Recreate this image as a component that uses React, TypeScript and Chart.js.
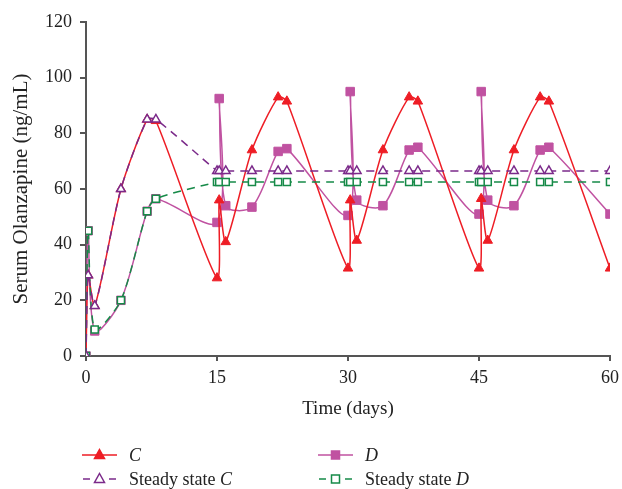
import React, { useEffect, useRef } from 'react';
import { Chart, registerables } from 'chart.js';
Chart.register(...registerables);

// ---- data ----
const days = [0, 0.25, 1, 4, 7, 8, 15, 15.25, 16, 19, 22, 23, 30, 30.25, 31, 34, 37, 38, 45, 45.25, 46, 49, 52, 53, 60];
const seriesC = [0, 29, 18, 60, 85, 84.5, 28, 56, 41, 74, 93, 91.5, 31.5, 56, 41.5, 74, 93, 91.5, 31.5, 56.5, 41.5, 74, 93, 91.5, 31.5];
const seriesD = [0, 45, 9, 20, 52, 56.5, 48, 92.5, 54, 53.5, 73.5, 74.5, 50.5, 95, 56, 54, 74, 75, 51, 95, 56, 54, 74, 75, 51];
const steadyC = [0, 29, 18, 60, 85, 85, 66.5, 66.5, 66.5, 66.5, 66.5, 66.5, 66.5, 66.5, 66.5, 66.5, 66.5, 66.5, 66.5, 66.5, 66.5, 66.5, 66.5, 66.5, 66.5];
const steadyD = [0, 45, 9.5, 20, 52, 56.5, 62.5, 62.5, 62.5, 62.5, 62.5, 62.5, 62.5, 62.5, 62.5, 62.5, 62.5, 62.5, 62.5, 62.5, 62.5, 62.5, 62.5, 62.5, 62.5];
const xTicks = [0, 15, 30, 45, 60];
const yTicks = [0, 20, 40, 60, 80, 100, 120];
const xTitle = 'Time (days)';
const yTitle = 'Serum Olanzapine (ng/mL)';

const RED = '#ee1d25';
const MAGENTA = '#c052a1';
const PURPLE = '#7b2a8a';
const GREEN = '#168a48';
const AXIS = '#555555';
const FONT = "'Liberation Serif', 'Times New Roman', serif";

const toPoints = (ys: number[]) => days.map((d, i) => ({ x: d, y: ys[i] }));

type LegendEntry = { prefix: string; italic: string; color: string; dashed: boolean; shape: 'triangle' | 'rect'; filled: boolean; col: number; row: number };
const legendEntries: LegendEntry[] = [
  { prefix: '', italic: 'C', color: RED, dashed: false, shape: 'triangle', filled: true, col: 0, row: 0 },
  { prefix: '', italic: 'D', color: MAGENTA, dashed: false, shape: 'rect', filled: true, col: 1, row: 0 },
  { prefix: 'Steady state ', italic: 'C', color: PURPLE, dashed: true, shape: 'triangle', filled: false, col: 0, row: 1 },
  { prefix: 'Steady state ', italic: 'D', color: GREEN, dashed: true, shape: 'rect', filled: false, col: 1, row: 1 },
];

function drawMarker(ctx: CanvasRenderingContext2D, shape: string, x: number, y: number, color: string, filled: boolean) {
  ctx.save();
  ctx.beginPath();
  if (shape === 'triangle') {
    ctx.moveTo(x, y - 5.5);
    ctx.lineTo(x + 5, y + 3.5);
    ctx.lineTo(x - 5, y + 3.5);
    ctx.closePath();
  } else {
    ctx.rect(x - 4, y - 4, 8, 8);
  }
  ctx.lineWidth = 1.5;
  ctx.strokeStyle = color;
  ctx.fillStyle = filled ? color : '#fff';
  ctx.fill();
  ctx.stroke();
  ctx.restore();
}

const legendPlugin = {
  id: 'customLegend',
  afterDraw(chart: any) {
    const ctx: CanvasRenderingContext2D = chart.ctx;
    const colX = [82, 318];
    const rowY = [455, 479];
    ctx.save();
    legendEntries.forEach((e) => {
      const x0 = colX[e.col];
      const y = rowY[e.row];
      ctx.strokeStyle = e.color;
      ctx.lineWidth = 1.5;
      ctx.beginPath();
      if (e.dashed) {
        ctx.moveTo(x0 + 1, y); ctx.lineTo(x0 + 8, y);
        ctx.moveTo(x0 + 27, y); ctx.lineTo(x0 + 34, y);
      } else {
        ctx.moveTo(x0, y); ctx.lineTo(x0 + 35, y);
      }
      ctx.stroke();
      drawMarker(ctx, e.shape, x0 + 17.5, y, e.color, e.filled);
      ctx.fillStyle = '#222';
      ctx.textBaseline = 'alphabetic';
      ctx.textAlign = 'left';
      let tx = x0 + 47;
      if (e.prefix) {
        ctx.font = `18px ${FONT}`;
        ctx.fillText(e.prefix, tx, y + 6);
        tx += ctx.measureText(e.prefix).width;
      }
      ctx.font = `italic 18px ${FONT}`;
      ctx.fillText(e.italic, tx, y + 6);
    });
    ctx.restore();
  },
};

export default function App() {
  const ref = useRef<HTMLCanvasElement | null>(null);
  useEffect(() => {
    if (!ref.current) return;
    const chart = new Chart(ref.current, {
      type: 'line',
      data: {
        datasets: [
          {
            label: 'Steady state C', data: toPoints(steadyC), borderColor: PURPLE, backgroundColor: '#fff',
            borderWidth: 1.5, borderDash: [8, 6], pointStyle: 'triangle', pointRadius: 5, pointBorderWidth: 1.5,
            pointBorderColor: PURPLE, pointBackgroundColor: '#fff', tension: 0.25, order: 1,
          },
          {
            label: 'Steady state D', data: toPoints(steadyD), borderColor: GREEN, backgroundColor: '#fff',
            borderWidth: 1.5, borderDash: [8, 6], pointStyle: 'rect', pointRadius: 5, pointBorderWidth: 1.5,
            pointBorderColor: GREEN, pointBackgroundColor: '#fff', tension: 0.25, order: 2,
          },
          {
            label: 'C', data: toPoints(seriesC), borderColor: RED, backgroundColor: RED,
            borderWidth: 1.5, pointStyle: 'triangle', pointRadius: 5.5, pointBorderWidth: 1,
            pointBorderColor: RED, pointBackgroundColor: RED, tension: 0.25, order: 3,
          },
          {
            label: 'D', data: toPoints(seriesD), borderColor: MAGENTA, backgroundColor: MAGENTA,
            borderWidth: 1.5, pointStyle: 'rect', pointRadius: 6, pointBorderWidth: 1,
            pointBorderColor: MAGENTA, pointBackgroundColor: MAGENTA, tension: 0.3, order: 4,
          },
        ],
      },
      options: {
        responsive: false,
        animation: false,
        layout: { padding: { left: 0, right: 12, top: 22, bottom: 64 } },
        plugins: { legend: { display: false }, tooltip: { enabled: false } },
        scales: {
          x: {
            type: 'linear', min: 0, max: 60,
            afterBuildTicks: (s: any) => { s.ticks = xTicks.map((v) => ({ value: v })); },
            afterFit: (s: any) => { s.height = 69; s.paddingLeft = 0; s.paddingRight = 0; },
            grid: { drawOnChartArea: false, drawTicks: true, tickLength: 5, color: AXIS, lineWidth: 2 },
            border: { color: AXIS, width: 2 },
            ticks: { font: { family: FONT, size: 18 }, color: '#222', padding: 6, maxRotation: 0 },
            title: { display: true, text: xTitle, font: { family: FONT, size: 19 }, color: '#222', padding: { top: 0, bottom: 5 } },
          },
          y: {
            type: 'linear', min: 0, max: 120,
            afterBuildTicks: (s: any) => { s.ticks = yTicks.map((v) => ({ value: v })); },
            afterFit: (s: any) => { s.width = 86; s.paddingTop = 0; s.paddingBottom = 0; },
            grid: { drawOnChartArea: false, drawTicks: true, tickLength: 6, color: AXIS, lineWidth: 2 },
            border: { color: AXIS, width: 2 },
            ticks: { font: { family: FONT, size: 18 }, color: '#222', padding: 8 },
            title: { display: true, text: yTitle, font: { family: FONT, size: 21 }, color: '#222', padding: { top: 9, bottom: 0 } },
          },
        },
      },
      plugins: [legendPlugin],
    } as any);
    return () => chart.destroy();
  }, []);
  return (
    <div style={{ position: 'absolute', left: 0, top: 0, width: 622, height: 489, background: '#fff' }}>
      <canvas ref={ref} width={622} height={489} />
    </div>
  );
}
